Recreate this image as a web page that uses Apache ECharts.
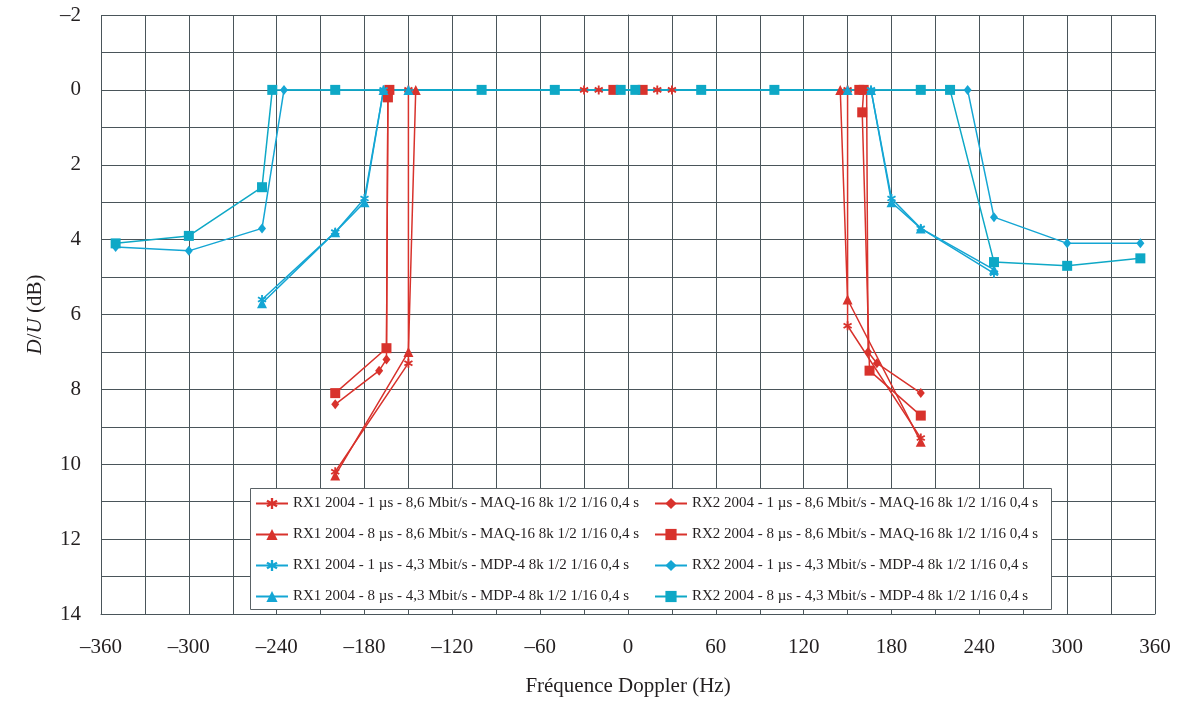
<!DOCTYPE html>
<html>
<head>
<meta charset="utf-8">
<script src="https://cdn.jsdelivr.net/npm/echarts@6/dist/echarts.min.js"></script>
<style>
html,body{margin:0;padding:0;background:#fff;}
#chart{width:1181px;height:705px;}
</style>
</head>
<body>
<div id="chart"></div>
<script>
// ---- data: [frequency Hz, D/U dB] ----
const seriesNames = [
  'RX1 2004 - 1 µs - 8,6 Mbit/s - MAQ-16 8k 1/2 1/16 0,4 s',
  'RX1 2004 - 8 µs - 8,6 Mbit/s - MAQ-16 8k 1/2 1/16 0,4 s',
  'RX1 2004 - 1 µs - 4,3 Mbit/s - MDP-4 8k 1/2 1/16 0,4 s',
  'RX1 2004 - 8 µs - 4,3 Mbit/s - MDP-4 8k 1/2 1/16 0,4 s',
  'RX2 2004 - 1 µs - 8,6 Mbit/s - MAQ-16 8k 1/2 1/16 0,4 s',
  'RX2 2004 - 8 µs - 8,6 Mbit/s - MAQ-16 8k 1/2 1/16 0,4 s',
  'RX2 2004 - 1 µs - 4,3 Mbit/s - MDP-4 8k 1/2 1/16 0,4 s',
  'RX2 2004 - 8 µs - 4,3 Mbit/s - MDP-4 8k 1/2 1/16 0,4 s'
];
const rx1_1us_maq = [[-200,10.2],[-150,7.3],[-150,0],[-30,0],[-20,0],[20,0],[30,0],[150,0],[150,6.3],[200,9.3]];
const rx1_8us_maq = [[-200,10.3],[-150,7.0],[-145,0],[145,0],[150,5.6],[200,9.4]];
const rx2_1us_maq = [[-200,8.4],[-170,7.5],[-165,7.2],[-164,0],[163,0],[164,7.0],[170,7.3],[200,8.1]];
const rx2_8us_maq = [[-200,8.1],[-165,6.9],[-164,0.2],[-163,0],[-10,0],[10,0],[158,0],[161,0],[160,0.6],[165,7.5],[200,8.7]];
const rx1_1us_mdp = [[-250,5.6],[-200,3.8],[-180,2.9],[-167,0],[166,0],[180,2.9],[200,3.7],[250,4.9]];
const rx1_8us_mdp = [[-250,5.7],[-200,3.8],[-180,3.0],[-167,0],[-150,0],[150,0],[166,0],[180,3.0],[200,3.7],[250,4.8]];
const rx2_1us_mdp = [[-350,4.2],[-300,4.3],[-250,3.7],[-235,0],[232,0],[250,3.4],[300,4.1],[350,4.1]];
const rx2_8us_mdp = [[-350,4.1],[-300,3.9],[-250,2.6],[-243,0],[-200,0],[-100,0],[-50,0],[-5,0],[5,0],[50,0],[100,0],[200,0],[220,0],[250,4.6],[300,4.7],[350,4.5]];

const RED = '#d8322c';
const CYAN = '#14a6d4';
const TEAL = '#0ea8c6';
const ASTER = 'path://M-1,-5 L-1,5 L1,5 L1,-5 Z M3.83,3.37 L4.83,1.63 L-3.83,-3.37 L-4.83,-1.63 Z M-4.83,1.63 L-3.83,3.37 L4.83,-1.63 L3.83,-3.37 Z';
const GRID = '#4a555a';
const SERIF = '"Liberation Serif","DejaVu Serif",serif';

function mk(name, data, color, symbol, size) {
  return {
    name: name, type: 'line', data: data,
    symbol: symbol, symbolSize: size, showAllSymbol: true,
    lineStyle: {color: color, width: 1.5},
    itemStyle: {color: color},
    emphasis: {disabled: true},
    animation: false
  };
}
const dash = v => String(v).replace('-', '–');

const chart = echarts.init(document.getElementById('chart'), null, {renderer: 'canvas'});
chart.setOption({
  animation: false,
  backgroundColor: '#fff',
  grid: {left: 101, right: 26, top: 15, bottom: 91},
  xAxis: {
    type: 'value', min: -360, max: 360, interval: 60,
    name: 'Fréquence Doppler (Hz)', nameLocation: 'middle', nameGap: 62,
    nameTextStyle: {fontFamily: SERIF, fontSize: 21, color: '#231f20'},
    axisLine: {onZero: false, lineStyle: {color: GRID, width: 1}},
    axisTick: {show: false},
    minorTick: {show: false, splitNumber: 2},
    splitLine: {show: true, lineStyle: {color: GRID, width: 1}},
    minorSplitLine: {show: true, lineStyle: {color: GRID, width: 1}},
    axisLabel: {formatter: dash, fontFamily: SERIF, fontSize: 21, color: '#231f20', margin: 23}
  },
  yAxis: {
    type: 'value', min: -2, max: 14, interval: 2, inverse: true,
    name: '{i|D}/{i|U} (dB)', nameLocation: 'middle', nameGap: 55, nameRotate: 90,
    nameTextStyle: {fontFamily: SERIF, fontSize: 21, color: '#231f20',
      rich: {i: {fontFamily: SERIF, fontSize: 21, fontStyle: 'italic', color: '#231f20'}}},
    axisLine: {lineStyle: {color: GRID, width: 1}},
    axisTick: {show: true, length: 6, inside: false, lineStyle: {color: GRID}},
    minorTick: {show: false, splitNumber: 2},
    splitLine: {show: true, lineStyle: {color: GRID, width: 1}},
    minorSplitLine: {show: true, lineStyle: {color: GRID, width: 1}},
    axisLabel: {formatter: dash, fontFamily: SERIF, fontSize: 21, color: '#231f20', margin: 20}
  },
  graphic: [{
    type: 'rect', z: 3,
    shape: {x: 250.5, y: 488.5, width: 801, height: 121},
    style: {fill: '#fff', stroke: '#5a6266', lineWidth: 1}
  }],
  legend: [{
    data: seriesNames.slice(0, 4), orient: 'vertical', left: 255, top: 496,
    padding: 0, itemGap: 16, itemWidth: 32, itemHeight: 14, z: 10,
    textStyle: {fontFamily: SERIF, fontSize: 15, color: '#231f20', lineHeight: 14},
    selectedMode: false
  }, {
    data: seriesNames.slice(4, 8), orient: 'vertical', left: 654, top: 496,
    padding: 0, itemGap: 16, itemWidth: 32, itemHeight: 14, z: 10,
    textStyle: {fontFamily: SERIF, fontSize: 15, color: '#231f20', lineHeight: 14},
    selectedMode: false
  }],
  series: [
    mk(seriesNames[0], rx1_1us_maq, RED, ASTER, 9),
    mk(seriesNames[1], rx1_8us_maq, RED, 'triangle', 10),
    mk(seriesNames[4], rx2_1us_maq, RED, 'diamond', [8, 10]),
    mk(seriesNames[5], rx2_8us_maq, RED, 'rect', 10),
    mk(seriesNames[2], rx1_1us_mdp, CYAN, ASTER, 9),
    mk(seriesNames[3], rx1_8us_mdp, CYAN, 'triangle', 10),
    mk(seriesNames[6], rx2_1us_mdp, CYAN, 'diamond', [8, 10]),
    mk(seriesNames[7], rx2_8us_mdp, TEAL, 'rect', 10)
  ]
});
</script>
</body>
</html>
